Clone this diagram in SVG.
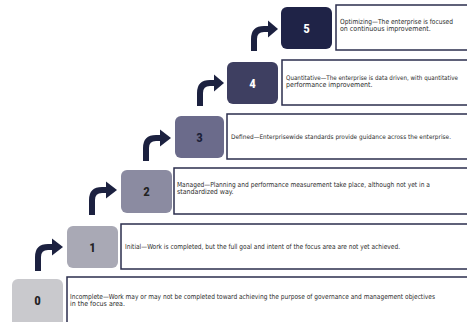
<svg xmlns="http://www.w3.org/2000/svg" width="467" height="322" viewBox="0 0 467 322">
<defs>
<style>
.tb{fill:#fff;stroke:#2b2e4d;stroke-width:1.5}
.nb{stroke:none}
.num{font-family:"Liberation Sans Narrow","Roboto Condensed","DejaVu Sans Condensed","Liberation Sans",sans-serif;font-size:13px;font-weight:bold;text-anchor:middle}
.t{font-family:"Liberation Sans Narrow","DejaVu Sans Condensed","Liberation Sans",sans-serif;font-size:7px;fill:#2b2b2b}
.s{font-size:6.3px}
.arr{fill:none;stroke:#1c2140;stroke-width:6}
.head{fill:#1c2140}
</style>
</defs>
<rect width="467" height="322" fill="#fff"/>
<g id="level0">
<rect class="tb" x="67" y="277" width="410" height="50"/>
<rect class="nb" x="12" y="279" width="51" height="50" rx="6" fill="#c9c9cd"/>
<text class="num" x="37.5" y="305" fill="#222">0</text>
<text class="t" x="70" y="298.5" textLength="365" lengthAdjust="spacingAndGlyphs">Incomplete—Work may or may not be completed toward achieving the purpose of governance and management objectives</text>
<text class="t" x="70" y="306">in the focus area.</text>
</g>
<g id="level1">
<rect class="tb" x="121" y="224" width="356" height="45"/>
<rect class="nb" x="67" y="226" width="51" height="42" rx="6" fill="#a9a9b5"/>
<text class="num" x="92.5" y="251.5" fill="#222">1</text>
<text class="t" x="125" y="249" textLength="275" lengthAdjust="spacingAndGlyphs">Initial—Work is completed, but the full goal and intent of the focus area are not yet achieved.</text>
</g>
<g id="level2">
<rect class="tb" x="174" y="168" width="303" height="46"/>
<rect class="nb" x="121" y="170" width="51" height="43" rx="6" fill="#8b8ba1"/>
<text class="num" x="146.5" y="196" fill="#222">2</text>
<text class="t" x="177" y="187" textLength="253" lengthAdjust="spacingAndGlyphs">Managed—Planning and performance measurement take place, although not yet in a</text>
<text class="t" x="177" y="194">standardized way.</text>
</g>
<g id="level3">
<rect class="tb" x="227" y="114" width="250" height="45"/>
<rect class="nb" x="175" y="116" width="49" height="42" rx="6" fill="#6b6b8b"/>
<text class="num" x="199.5" y="141.5" fill="#1c1f38">3</text>
<text class="t s" x="231" y="139" textLength="220" lengthAdjust="spacingAndGlyphs">Defined—Enterprisewide standards provide guidance across the enterprise.</text>
</g>
<g id="level4">
<rect class="tb" x="282" y="60" width="195" height="45"/>
<rect class="nb" x="227" y="62" width="51" height="42" rx="6" fill="#3e3f61"/>
<text class="num" x="252.5" y="87.5" fill="#fff">4</text>
<text class="t s" x="286" y="79.5" textLength="172" lengthAdjust="spacingAndGlyphs">Quantitative—The enterprise is data driven, with quantitative</text>
<text class="t" x="286" y="87">performance improvement.</text>
</g>
<g id="level5">
<rect class="tb" x="336" y="5" width="141" height="45"/>
<rect class="nb" x="281" y="7" width="51" height="42" rx="6" fill="#1f2347"/>
<text class="num" x="306.5" y="32.5" fill="#fff">5</text>
<text class="t" x="340" y="23.5" textLength="113" lengthAdjust="spacingAndGlyphs">Optimizing—The enterprise is focused</text>
<text class="t" x="340" y="31">on continuous improvement.</text>
</g>
<g id="connectors">
<path class="arr" d="M38 271 V257 Q38 247 48 247 H53"/>
<polygon class="head" points="52,238.5 63,247 52,255.5"/>
<path class="arr" d="M92 215 V200 Q92 190 102 190 H107"/>
<polygon class="head" points="106,181.5 117,190 106,198.5"/>
<path class="arr" d="M146 161 V148 Q146 138 156 138 H161"/>
<polygon class="head" points="160,129.5 171,138 160,146.5"/>
<path class="arr" d="M200 106 V93 Q200 83 210 83 H215"/>
<polygon class="head" points="214,74.5 224,83 214,91.5"/>
<path class="arr" d="M254 51 V39 Q254 29 264 29 H269"/>
<polygon class="head" points="268,20.5 278,29 268,37.5"/>
</g>
</svg>
